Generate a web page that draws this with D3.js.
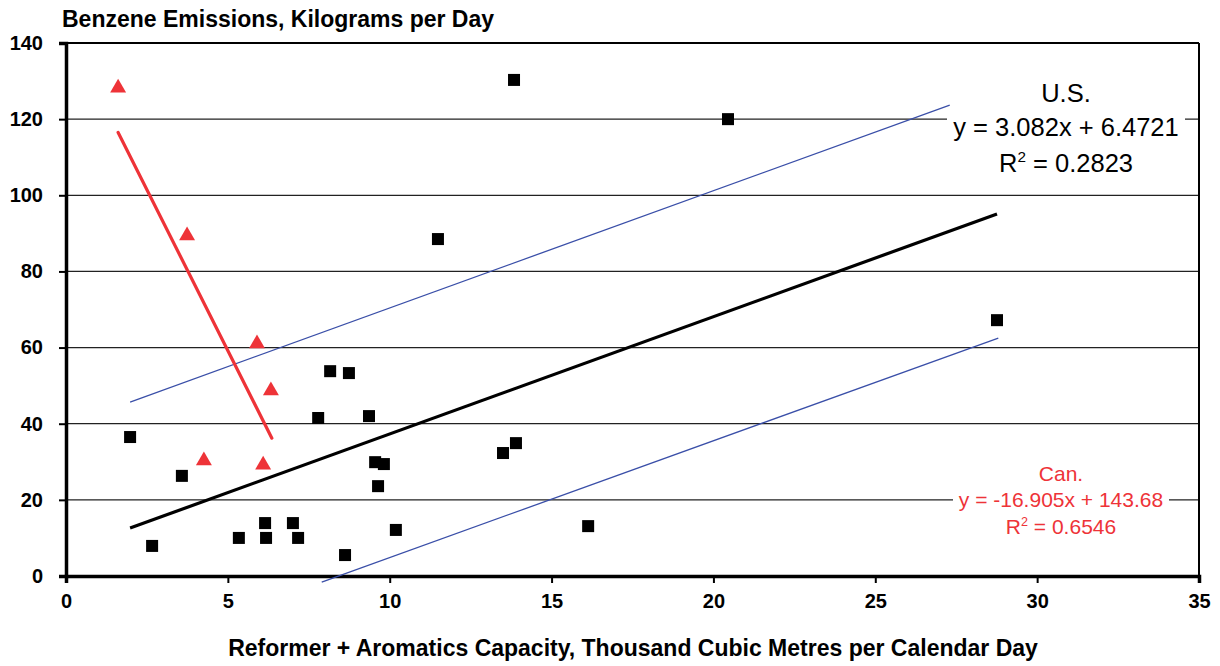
<!DOCTYPE html>
<html>
<head>
<meta charset="utf-8">
<script src="https://cdn.jsdelivr.net/npm/d3@7"></script>
<style>
  body { margin: 0; background: #fff; }
  svg { display: block; font-family: "Liberation Sans", Arial, sans-serif; }
</style>
</head>
<body>
<div id="chart"></div>
<script>
// US refineries: capacity (x) vs benzene emissions (y)
const usX = [1.98, 2.66, 3.58, 5.34, 6.15, 6.18, 7.01, 7.17, 7.79, 8.16, 8.62, 8.74, 9.36, 9.55, 9.64, 9.82, 10.19, 11.49, 13.5, 13.84, 13.9, 16.13, 20.45, 28.76];
const usY = [36.5, 7.9, 26.3, 10, 13.9, 10, 13.9, 10, 41.5, 53.8, 5.5, 53.3, 42, 29.9, 23.6, 29.4, 12.1, 88.5, 32.3, 130.3, 34.9, 13.1, 120, 67.2];

// Canadian refineries
const canX = [1.61, 3.74, 5.9, 6.33, 4.26, 6.09];
const canY = [128.2, 89.4, 61.0, 48.7, 30.3, 29.2];

// trend lines (end points) and confidence band lines
const usTrendX = [1.98, 28.76];
const usTrendY = [12.6, 95.1];
const canTrendX = [1.61, 6.36];
const canTrendY = [116.5, 36.2];
const upperBandX = [1.98, 27.3];
const upperBandY = [45.7, 123.7];
const lowerBandX = [7.9, 28.8];
const lowerBandY = [-1.6, 62.5];

const xTicks = [0, 5, 10, 15, 20, 25, 30, 35];
const yTicks = [0, 20, 40, 60, 80, 100, 120, 140];

const width = 1220, height = 666;
const margin = { top: 43, right: 21, bottom: 90, left: 66 };
const innerWidth = width - margin.left - margin.right;
const innerHeight = height - margin.top - margin.bottom;

const red = '#ee3338';
const blue = '#3a4fa8';

const svg = d3.select('#chart').append('svg')
    .attr('width', width)
    .attr('height', height);

const g = svg.append('g')
    .attr('transform', `translate(${margin.left},${margin.top})`);

const xScale = d3.scaleLinear().domain([0, 35]).range([0, innerWidth]);
const yScale = d3.scaleLinear().domain([0, 140]).range([innerHeight, 0]);

// gridlines
g.selectAll('.grid')
    .data(yTicks.filter(v => v > 0 && v < 140))
    .enter()
    .append('line')
    .attr('x1', 0)
    .attr('x2', innerWidth)
    .attr('y1', d => yScale(d))
    .attr('y2', d => yScale(d))
    .style('stroke', '#222')
    .style('stroke-width', 1.2);

// frame: top and right
g.append('line').attr('x1', 0).attr('x2', innerWidth).attr('y1', 0).attr('y2', 0)
    .style('stroke', '#000').style('stroke-width', 2);
g.append('line').attr('x1', innerWidth).attr('x2', innerWidth).attr('y1', 0).attr('y2', innerHeight)
    .style('stroke', '#000').style('stroke-width', 2);

// axes
const xAxis = d3.axisBottom(xScale).tickValues(xTicks).tickSize(7).tickPadding(11);
const yAxis = d3.axisLeft(yScale).tickValues(yTicks).tickSize(7).tickPadding(16);

const gx = g.append('g')
    .attr('transform', `translate(0,${innerHeight})`)
    .call(xAxis);
const gy = g.append('g').call(yAxis);

[gx, gy].forEach(ax => {
    ax.select('.domain').style('stroke', '#000').style('stroke-width', 3.5);
    ax.selectAll('.tick line').style('stroke', '#000').style('stroke-width', 2);
    ax.selectAll('text')
        .style('fill', '#000')
        .style('font-family', '"Liberation Sans", Arial, sans-serif')
        .style('font-size', '20px')
        .style('font-weight', 'bold');
});

// lines
const line = d3.line().x(d => xScale(d[0])).y(d => yScale(d[1]));
const pairs = (xs, ys) => xs.map((x, i) => [x, ys[i]]);

g.append('path').datum(pairs(upperBandX, upperBandY))
    .attr('d', line).style('fill', 'none').style('stroke', blue).style('stroke-width', 1.3);
g.append('path').datum(pairs(lowerBandX, lowerBandY))
    .attr('d', line).style('fill', 'none').style('stroke', blue).style('stroke-width', 1.3);
g.append('path').datum(pairs(usTrendX, usTrendY))
    .attr('d', line).style('fill', 'none').style('stroke', '#000').style('stroke-width', 3.2);
g.append('path').datum(pairs(canTrendX, canTrendY))
    .attr('d', line).style('fill', 'none').style('stroke', red).style('stroke-width', 3.2)
    .style('stroke-linecap', 'round');

// US squares
g.selectAll('.us-dot')
    .data(pairs(usX, usY))
    .enter()
    .append('rect')
    .attr('class', 'us-dot')
    .attr('x', d => xScale(d[0]) - 6)
    .attr('y', d => yScale(d[1]) - 6)
    .attr('width', 12)
    .attr('height', 12)
    .attr('fill', '#000');

// Canadian triangles
const tri = d3.symbol().type(d3.symbolTriangle).size(110);
g.selectAll('.can-dot')
    .data(pairs(canX, canY))
    .enter()
    .append('path')
    .attr('class', 'can-dot')
    .attr('transform', d => `translate(${xScale(d[0])},${yScale(d[1])})`)
    .attr('d', tri)
    .attr('fill', red);

// regression labels
function label(lines, cx, ys, color, size, bgW) {
    const lg = svg.append('g');
    lines.forEach((t, i) => {
        if (i === 1) {
            lg.append('rect')
                .attr('x', cx - bgW / 2)
                .attr('y', ys[i] - size * 0.8)
                .attr('width', bgW)
                .attr('height', size)
                .attr('fill', '#fff');
        }
        const txt = lg.append('text')
            .attr('x', cx)
            .attr('y', ys[i])
            .attr('text-anchor', 'middle')
            .style('fill', color)
            .style('font-size', size + 'px');
        if (t.startsWith('R2')) {
            txt.append('tspan').text('R');
            txt.append('tspan').attr('dy', -size * 0.4).style('font-size', (size * 0.6) + 'px').text('2');
            txt.append('tspan').attr('dy', size * 0.4).text(t.slice(2));
        } else {
            txt.text(t);
        }
    });
}

label(['U.S.', 'y = 3.082x + 6.4721', 'R2 = 0.2823'], 1066, [102, 136, 172], '#000', 25.5, 238);
label(['Can.', 'y = -16.905x + 143.68', 'R2 = 0.6546'], 1061, [481, 507, 534], red, 21, 216);

// titles
svg.append('text')
    .attr('x', 62)
    .attr('y', 27)
    .style('font-size', '23px')
    .style('font-weight', 'bold')
    .text('Benzene Emissions, Kilograms per Day');

svg.append('text')
    .attr('x', 633)
    .attr('y', 656)
    .attr('text-anchor', 'middle')
    .style('font-size', '23px')
    .style('font-weight', 'bold')
    .text('Reformer + Aromatics Capacity, Thousand Cubic Metres per Calendar Day');
</script>
</body>
</html>
